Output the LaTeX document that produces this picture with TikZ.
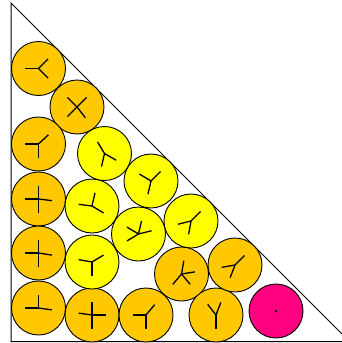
\documentclass[tikz,border=0pt]{standalone}
\usepackage{tikz}
\usetikzlibrary{positioning,calc}
\definecolor{DO}{HTML}{FFC800}
\definecolor{DY}{HTML}{FFFF00}
\definecolor{DM}{HTML}{FF0080}
\tikzset{
  disc/.style={circle, draw=black, line width=0.9pt, inner sep=0pt,
               minimum size=54pt},
  spoke/.style={line width=1.3pt, black}
}
\begin{document}
\begin{tikzpicture}[x=1pt, y=-1pt]
  \useasboundingbox (0,0) rectangle (342,343);
  %% the box: right triangle, corner cut off by the page
  \draw[line width=1pt] (11,3) -- (11,341.5) -- (349.5,341.5) -- cycle;
  %% discs with contact spokes
  \foreach \nn/\xx/\yy/\cc/\aa in {
      1/38.5/68.5/DO/{180,-45,45},
      2/77/107/DO/{-135,-45,52,135},
      3/38.5/144/DO/{180,-43,90},
      4/38.5/199/DO/{-90,180,7,90},
      5/38.5/253/DO/{-90,180,9,90},
      6/38.5/308/DO/{-90,180,8},
      7/92/315/DO/{-90,188,0,90},
      8/92/262/DY/{190,-31,90},
      9/92/206/DY/{187,-77,31},
      10/104.5/153.5/DY/{-121,30,103},
      11/151/181/DY/{-149,-45,103},
      12/138.5/234/DY/{-77,-14,149,-149},
      13/191/221/DY/{166,-45,100},
      14/181.5/274/DO/{-80,-9,130,50},
      15/146/315/DO/{180,-50,90},
      16/216/315/DO/{-128,-69,90},
      17/235/265/DO/{170,-45,111}}{
    \node[disc, fill=\cc] (d\nn) at (\xx,\yy) {};
    \foreach \a in \aa{
      \draw[spoke] (d\nn.center) -- ++(\a:13.5);
    }
  }
  %% the free one
  \node[disc, fill=DM] (d18) at (276,311) {};
  \fill[black] (d18.center) circle (1.3);
\end{tikzpicture}
\end{document}
